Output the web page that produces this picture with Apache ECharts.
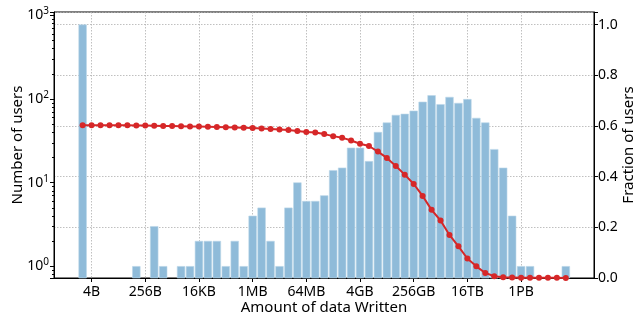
<!DOCTYPE html>
<html>
<head>
<meta charset="utf-8">
<script src="https://cdn.jsdelivr.net/npm/echarts@6/dist/echarts.min.js"></script>
<style>
  html, body { margin: 0; padding: 0; background: #fff; }
  #chart { width: 636px; height: 318px; }
</style>
</head>
<body>
<div id="chart"></div>
<script>
// bins are powers of two: bin exponent k means 2^k bytes
const binExp = [1, 2, 3, 4, 5, 6, 7, 8, 9, 10, 11, 12, 13, 14, 15, 16, 17, 18, 19, 20,
    21, 22, 23, 24, 25, 26, 27, 28, 29, 30, 31, 32, 33, 34, 35, 36, 37, 38, 39, 40,
    41, 42, 43, 44, 45, 46, 47, 48, 49, 50, 51, 52, 53, 54, 55]
const users = [770, 0, 0, 0, 0, 0, 1, 0, 3, 1, 0, 1, 1, 2, 2, 2, 1, 2, 1, 4,
    5, 2, 1, 5, 10, 6, 6, 7, 14, 15, 26, 26, 18, 40, 52, 64, 66, 72, 92, 110,
    86, 105, 89, 99, 59, 52, 25, 15, 4, 1, 1, 0, 0, 0, 1]
const fraction = [0.603, 0.603, 0.603, 0.603, 0.603, 0.603, 0.602, 0.602, 0.601, 0.600,
    0.600, 0.599, 0.598, 0.598, 0.597, 0.596, 0.595, 0.594, 0.593, 0.592,
    0.590, 0.588, 0.586, 0.584, 0.580, 0.576, 0.574, 0.568, 0.560, 0.554,
    0.543, 0.530, 0.521, 0.499, 0.474, 0.442, 0.408, 0.371, 0.324, 0.269,
    0.227, 0.170, 0.125, 0.077, 0.046, 0.020, 0.007, 0.003, 0.002, 0.001,
    0.001, 0.001, 0.001, 0.001, 0.000]
const tickExp = [2, 8, 14, 20, 26, 32, 38, 44, 50]
const tickNames = ['4B', '256B', '16KB', '1MB', '64MB', '4GB', '256GB', '16TB', '1PB']
const minorTicks = [0.8, 0.9, 2, 3, 4, 5, 6, 7, 8, 9, 20, 30, 40, 50, 60, 70, 80, 90,
    200, 300, 400, 500, 600, 700, 800, 900]

const font = 'Noto Sans'
const gridLine = { show: true, lineStyle: { color: '#b0b0b0', width: 0.8, type: [1.5, 1.5] } }

const barData = []
const lineData = []
binExp.forEach(function (k, i) {
    if (users[i] > 0) barData.push([k, users[i]])
    lineData.push([k, fraction[i]])
})

const myChart = echarts.init(document.getElementById('chart'))
myChart.setOption({
    animation: false,
    textStyle: { fontFamily: font },
    grid: {
        left: 54, right: 42, top: 12, bottom: 40,
        outerBoundsMode: 'none',
        containLabel: false,
        show: true, borderColor: '#000', borderWidth: 1
    },
    xAxis: {
        type: 'value',
        min: -2.2,
        max: 58.15,
        name: 'Amount of data Written',
        nameLocation: 'middle',
        nameGap: 22,
        nameMoveOverlap: false,
        nameTextStyle: { fontSize: 15, color: '#000', fontFamily: font, verticalAlign: 'top' },
        axisLine: { show: true, onZero: false, lineStyle: { color: '#000' } },
        axisTick: { show: true, customValues: tickExp, length: 4, lineStyle: { color: '#000' } },
        axisLabel: {
            customValues: tickExp,
            fontSize: 14, color: '#000', margin: 7,
            formatter: function (v) {
                const i = tickExp.indexOf(Math.round(v))
                return i >= 0 ? tickNames[i] : ''
            }
        },
        splitLine: gridLine
    },
    yAxis: [
        {
            type: 'log',
            logBase: 10,
            min: 0.727,
            max: 1094,
            name: 'Number of users',
            nameLocation: 'middle',
            nameGap: 29,
            nameMoveOverlap: false,
            nameTextStyle: { fontSize: 15, color: '#000', fontFamily: font },
            axisLine: { show: true, onZero: false, lineStyle: { color: '#000' } },
            axisTick: { show: true, length: 4, lineStyle: { color: '#000' } },
            axisLabel: {
                color: '#000', margin: 5,
                formatter: function (v) {
                    const e = Math.log10(v)
                    if (Math.abs(e - Math.round(e)) > 0.01) return ''
                    return '{b|10}{s|' + Math.round(e) + '}'
                },
                rich: {
                    b: { fontSize: 14, color: '#000', fontFamily: font },
                    s: { fontSize: 10, color: '#000', fontFamily: font, verticalAlign: 'top', padding: [0, 0, 8, 0] }
                }
            },
            splitLine: { show: false }
        },
        {
            type: 'value',
            position: 'right',
            min: 0,
            max: 1.05,
            interval: 0.2,
            name: 'Fraction of users',
            nameLocation: 'middle',
            nameRotate: 90,
            nameGap: 27,
            nameMoveOverlap: false,
            nameTextStyle: { fontSize: 15, color: '#000', fontFamily: font },
            axisLine: { show: true, onZero: false, lineStyle: { color: '#000' } },
            axisTick: { show: true, length: 4, lineStyle: { color: '#000' } },
            axisLabel: {
                fontSize: 14, color: '#000', margin: 4,
                formatter: function (v) {
                    return v > 1.001 ? '' : v.toFixed(1)
                }
            },
            splitLine: gridLine
        },
        {
            // minor ticks of the log axis
            type: 'log',
            logBase: 10,
            position: 'left',
            min: 0.727,
            max: 1094,
            axisLine: { show: false, onZero: false },
            axisTick: { show: true, customValues: minorTicks, length: 2, lineStyle: { color: '#000' } },
            axisLabel: { show: false },
            splitLine: { show: false }
        }
    ],
    series: [
        {
            type: 'custom',
            yAxisIndex: 0,
            encode: { x: 0, y: 1 },
            data: barData,
            z: 2,
            renderItem: function (params, api) {
                const x = api.value(0)
                const y = api.value(1)
                const top = api.coord([x, y])
                const left = api.coord([x - 0.43, y])[0]
                const right = api.coord([x + 0.43, y])[0]
                const bottom = params.coordSys.y + params.coordSys.height
                return {
                    type: 'rect',
                    shape: { x: left, y: top[1], width: right - left, height: bottom - top[1] },
                    style: { fill: '#8fbbd9', stroke: '#bcd6ea', lineWidth: 0.6 }
                }
            }
        },
        {
            type: 'line',
            yAxisIndex: 1,
            data: lineData,
            z: 3,
            symbol: 'circle',
            symbolSize: 6,
            showAllSymbol: true,
            lineStyle: { color: '#d62728', width: 2 },
            itemStyle: { color: '#d62728' }
        }
    ]
})
</script>
</body>
</html>
